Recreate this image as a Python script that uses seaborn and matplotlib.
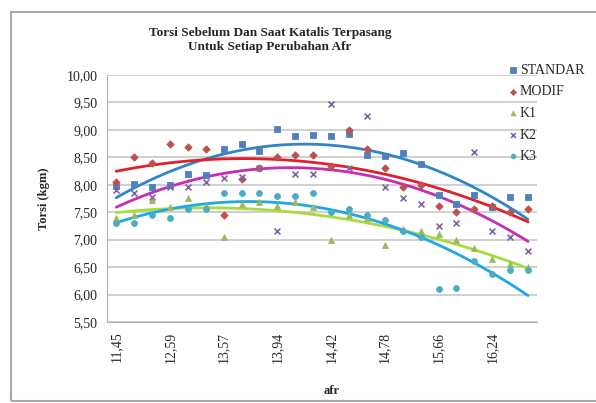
import matplotlib
matplotlib.use("Agg")
import matplotlib.pyplot as plt
import matplotlib.patches as patches
import numpy as np
import pandas as pd
import seaborn as sns

# afr tick labels, shown every third category (24 measurements)
afr_labels = ["11,45", "12,59", "13,57", "13,94", "14,42", "14,78", "15,66", "16,24"]
n_points = 24

standar = [7.97, 8.02, 7.95, 8.00, 8.20, 8.18, 8.65, 8.75, 8.62, 9.02, 8.88, 8.90,
           8.88, 8.92, 8.55, 8.52, 8.58, 8.38, 7.82, 7.65, 7.82, 7.60, 7.78, 7.78]
modif = [8.05, 8.50, 8.40, 8.75, 8.68, 8.65, 7.45, 8.10, 8.30, 8.50, 8.55, 8.55,
         8.35, 9.00, 8.65, 8.30, 7.95, 8.00, 7.62, 7.50, 7.55, 7.62, 7.50, 7.55]
k1 = [7.40, 7.45, 7.72, 7.60, 7.75, 7.62, 7.05, 7.65, 7.68, 7.62, 7.68, 7.60,
      7.00, 7.45, 7.40, 6.90, 7.20, 7.15, 7.10, 7.00, 6.85, 6.65, 6.55, 6.50]
k2 = [7.90, 7.85, 7.78, 7.95, 7.95, 8.05, 8.12, 8.15, 8.30, 7.15, 8.20, 8.20,
      9.48, 8.30, 9.25, 7.95, 7.75, 7.65, 7.25, 7.30, 8.60, 7.15, 7.05, 6.80]
k3 = [7.30, 7.30, 7.45, 7.40, 7.55, 7.55, 7.85, 7.85, 7.85, 7.80, 7.80, 7.85,
      7.50, 7.55, 7.45, 7.35, 7.15, 7.05, 6.10, 6.12, 6.62, 6.38, 6.45, 6.45]

series = {"STANDAR": standar, "MODIF": modif, "K1": k1, "K2": k2, "K3": k3}
marker_colors = {"STANDAR": "#4F81BD", "MODIF": "#C0504D", "K1": "#9BBB59",
                 "K2": "#8064A2", "K3": "#4BACC6"}
trend_colors = {"STANDAR": "#2E86C8", "MODIF": "#E0202A", "K1": "#A6DC3C",
                "K2": "#C42DB4", "K3": "#1FA8E6"}
markers = {"STANDAR": "s", "MODIF": "D", "K1": "^", "K2": "x", "K3": "o"}
msizes = {"STANDAR": 22, "MODIF": 14, "K1": 18, "K2": 18, "K3": 18}

rows = []
for name, vals in series.items():
    for i, v in enumerate(vals):
        rows.append({"idx": i, "torsi": v, "seri": name})
df = pd.DataFrame(rows)

sns.set_style("white")
plt.rcParams["font.family"] = ["Liberation Serif", "DejaVu Serif"]

fig = plt.figure(figsize=(5.96, 4.03), dpi=100)
ax = fig.add_axes([0.18, 0.201, 0.721, 0.613])

for name in series:
    sub = df[df["seri"] == name]
    sns.regplot(data=sub, x="idx", y="torsi", order=2, ci=None, scatter=False,
                truncate=True, ax=ax, line_kws={"color": trend_colors[name], "lw": 2})

for name in series:
    sub = df[df["seri"] == name]
    kw = {"linewidth": 0.6, "edgecolor": marker_colors[name]}
    if markers[name] == "x":
        kw = {"linewidth": 1.2}
    sns.scatterplot(data=sub, x="idx", y="torsi", color=marker_colors[name],
                    marker=markers[name], s=msizes[name], ax=ax, zorder=3,
                    label=name, **kw)

ax.set_xlim(-0.5, n_points - 0.5)
ax.set_ylim(5.5, 10.0)
yt = np.arange(5.5, 10.01, 0.5)
ax.set_yticks(yt)
ax.set_yticklabels([f"{v:.2f}".replace(".", ",") for v in yt], fontsize=10)
ax.set_xticks(range(0, n_points, 3))
ax.set_xticklabels(afr_labels, rotation=90, fontsize=10)
ax.tick_params(axis="both", length=3, color="#A0A0A0", pad=4)
ax.yaxis.grid(True, color="#C8C8C8", lw=1.2)
ax.set_axisbelow(True)
for s in ["top", "right"]:
    ax.spines[s].set_visible(False)
for s in ["left", "bottom"]:
    ax.spines[s].set_color("#B0B0B0")

ax.set_xlabel("afr", fontsize=9, fontweight="bold")
ax.xaxis.set_label_coords(0.523, -0.255)
ax.set_ylabel("Torsi (kgm)", fontsize=9, fontweight="bold", labelpad=12)
fig.text(0.453, 0.9, "Torsi Sebelum Dan Saat Katalis Terpasang\nUntuk Setiap Perubahan Afr",
         ha="center", va="center", fontsize=9.5, fontweight="bold", linespacing=1.2)

handles, labels = ax.get_legend_handles_labels()
ax.legend_.remove()
fig.legend(handles, labels, loc="upper left", bbox_to_anchor=(0.83, 0.873),
           frameon=False, prop={"family": "Liberation Serif", "size": 10},
           handletextpad=0.1, labelspacing=0.62, markerscale=0.8, handlelength=0.8)

fig.patches.append(patches.Rectangle((0.018, 0.005), 0.985, 0.965,
                                     transform=fig.transFigure, fill=False,
                                     edgecolor="#A8A8A8", lw=1.5))

fig.savefig("out.png", dpi=100)
